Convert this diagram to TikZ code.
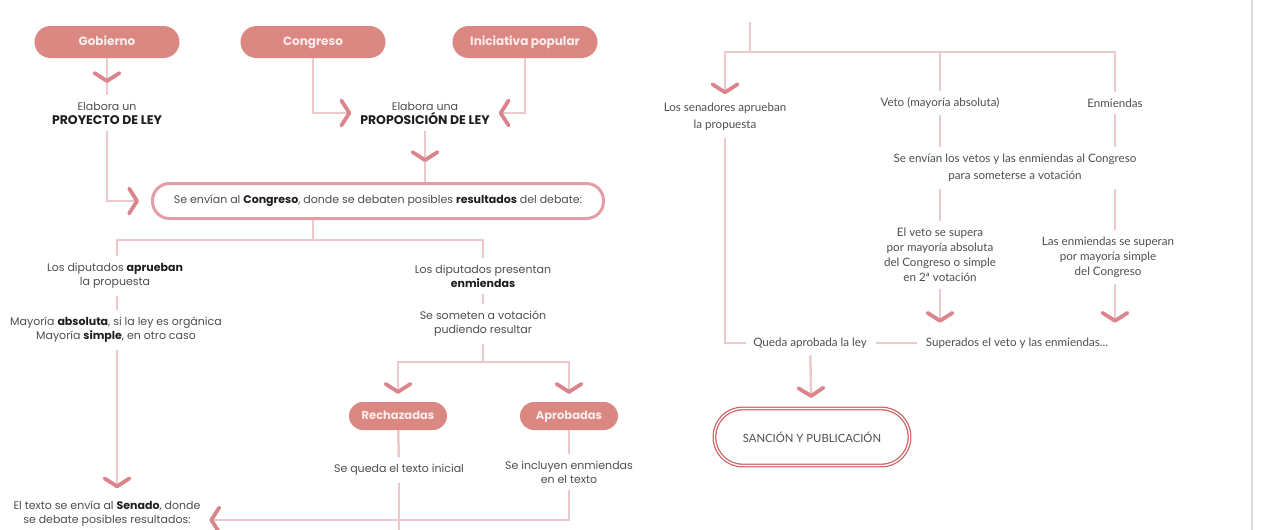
\documentclass[tikz,border=0pt]{standalone}
\usepackage{fontspec}
\setmainfont{Poppins}
\newfontfamily\rightfont{Lato}
\usetikzlibrary{arrows.meta,decorations.markings}

\definecolor{pillcol}{RGB}{219,136,130}
\definecolor{pilltxt}{RGB}{252,236,236}
\definecolor{linecol}{RGB}{238,200,204}
\definecolor{chevcol}{RGB}{218,132,140}
\definecolor{boxcol}{RGB}{226,158,166}
\definecolor{sancol}{RGB}{205,102,102}
\definecolor{txtcol}{RGB}{78,78,78}
\definecolor{boldcol}{RGB}{30,30,30}

\newcommand{\bld}[1]{\textbf{\color{boldcol}#1}}
\newcommand{\bigbld}[1]{{\fontsize{12.5}{14}\selectfont\bld{#1}}}

\tikzset{
  chev/.tip={Straight Barb[length=8pt,width=25pt,line width=3.8pt,round,color=chevcol]},
  conn/.style={draw=linecol,line width=2.5pt},
  arr/.style={conn,-{chev}},
  chevmid/.style={postaction={decorate,decoration={markings,mark=at position #1 with {\arrow{chev}}}}},
  pill/.style={fill=pillcol,text=pilltxt,font=\fontsize{12}{14}\selectfont\bfseries,
    text height=9pt,text depth=2.5pt,
    rounded corners=16pt,minimum width=145pt,minimum height=32pt},
  smallpill/.style={pill,font=\fontsize{11.5}{13}\selectfont\bfseries,rounded corners=14pt,
    minimum width=98pt,minimum height=28pt},
  txt/.style={align=center,text=txtcol,font=\fontsize{11}{14}\selectfont,inner sep=1pt,outer sep=6pt},
  rtxt/.style={txt,font=\rightfont\fontsize{11.6}{17}\selectfont},
  mainbox/.style={draw=boxcol,line width=3pt,fill=white,rounded corners=17pt,
    minimum width=451pt,minimum height=35pt,text=txtcol,font=\fontsize{11}{13}\selectfont},
  finalbox/.style={draw=sancol,double=white,double distance=1.3pt,line width=1.3pt,
    rounded corners=28pt,minimum width=195pt,minimum height=57pt,text=txtcol,
    font=\rightfont\fontsize{11.3}{13}\selectfont}
}

\begin{document}
\begin{tikzpicture}[x=1pt,y=-1pt]
\useasboundingbox (0,0) rectangle (1262,530);

% Origin of the initiative
\node[pill] (gob) at (107,42) {Gobierno};
\node[pill] (cong) at (313,42) {Congreso};
\node[pill] (inic) at (525,42) {Iniciativa popular};

\node[txt] (proy) at (107,113) {Elabora un\\\bigbld{PROYECTO DE LEY}};
\node[txt] (propo) at (425,113) {Elabora una\\\bigbld{PROPOSICIÓN DE LEY}};

\draw[conn,chevmid=-12pt] (gob) -- (proy);
\draw[arr,shorten >=2pt] (cong) |- (propo.west);
\draw[arr,shorten >=2pt] (inic) |- (propo.east);

% Debate in the Congress
\node[mainbox] (envia) at (378,201) {Se envían al \bld{Congreso}, donde se debaten posibles \bld{resultados} del debate:};
\draw[arr,shorten >=12pt] (proy) |- (envia.west);
\draw[conn,chevmid=-20pt] (propo) -- (propo |- envia.north);

\node[txt] (aprueban) at (115,276) {Los diputados \bld{aprueban}\\la propuesta};
\node[txt] (mayoria) at (116,330) {Mayoría \bld{absoluta}, si la ley es orgánica\\Mayoría \bld{simple}, en otro caso};
\node[txt] (enmi) at (483,276) {Los diputados presentan\\\bld{enmiendas}};
\node[txt] (someten) at (483,324) {Se someten a votación\\pudiendo resultar};

\draw[conn] (envia.south -| cong) -- (313,240) coordinate (splitA);
\draw[conn] (splitA) -| (aprueban.north -| 117,0);
\draw[conn] (splitA) -| (enmi);
\draw[conn] (aprueban.south -| 117,0) -- (mayoria.north -| 117,0);
\draw[conn] (enmi) -- (someten);

% Vote on the amendments
\node[smallpill] (rech) at (398,416) {Rechazadas};
\node[smallpill] (aprob) at (569,416) {Aprobadas};
\node[txt] (queda) at (399,470) {Se queda el texto inicial};
\node[txt] (incluyen) at (569,472) {Se incluyen enmiendas\\en el texto};

\draw[conn] (someten) -- (483,362) coordinate (splitC);
\draw[arr,shorten >=8pt] (splitC) -| (rech);
\draw[arr,shorten >=8pt] (splitC) -| (aprob);
\draw[conn] (rech) -- (queda);
\draw[conn] (aprob) -- (incluyen);

% Sent to the Senate
\node[txt] (senado) at (107,514) {El texto se envía al \bld{Senado}, donde\\se debate posibles resultados:};
\draw[arr,shorten >=6pt] (mayoria.south -| 117,0) -- (senado.north -| 117,0);
\draw[arr,shorten >=2pt] (incluyen) |- ([yshift=-6pt]senado.east);
\draw[conn] (queda) -- (queda |- 0,530);

% Senate results
\coordinate (topin) at (750,22);
\node[rtxt] (senad) at (725,117) {Los senadores aprueban\\la propuesta};
\node[rtxt] (veto) at (940,103) {Veto (mayoría absoluta)};
\node[rtxt] (enm) at (1115,103) {Enmiendas};
\node[rtxt] (envcong) at (1015,168) {Se envían los vetos y las enmiendas al Congreso\\para someterse a votación};
\node[rtxt,font=\rightfont\fontsize{11.6}{15}\selectfont] (vsupera) at (940,255) {El veto se supera\\por mayoría absoluta\\del Congreso o simple\\en 2ª votación};
\node[rtxt,font=\rightfont\fontsize{11.6}{15}\selectfont] (esupera) at (1108,257) {Las enmiendas se superan\\por mayoría simple\\del Congreso};

\draw[conn] (topin) -- (750,52) coordinate (splitB);
\draw[arr,shorten >=2pt] (splitB) -| (senad);
\draw[conn] (splitB) -| (veto);
\draw[conn] (splitB) -| (enm);
\draw[conn] (veto) -- (veto |- envcong.north);
\draw[conn] (enm) -- (enm |- envcong.north);
\draw[conn] (envcong.south -| veto) -- (vsupera);
\draw[conn] (envcong.south -| enm) -- (enm |- esupera.north);

% Final steps
\node[rtxt] (queda2) at (810,343) {Queda aprobada la ley};
\node[rtxt] (superados) at (1017,343) {Superados el veto y las enmiendas...};
\node[finalbox] (sancion) at (812,437) {SANCIÓN Y PUBLICACIÓN};

\draw[arr,shorten >=8pt] (vsupera) -- (vsupera |- superados.north);
\draw[arr,shorten >=8pt] (esupera.south -| enm) -- (enm |- superados.north);
\draw[conn] (senad) |- (queda2);
\draw[conn,shorten <=2pt,shorten >=2pt] (queda2) -- (superados);
\draw[arr,shorten >=10pt] (queda2) -- (sancion);

% Page edge
\draw[black!15,line width=2pt] (1252,0) -- (1252,530);
\end{tikzpicture}
\end{document}
